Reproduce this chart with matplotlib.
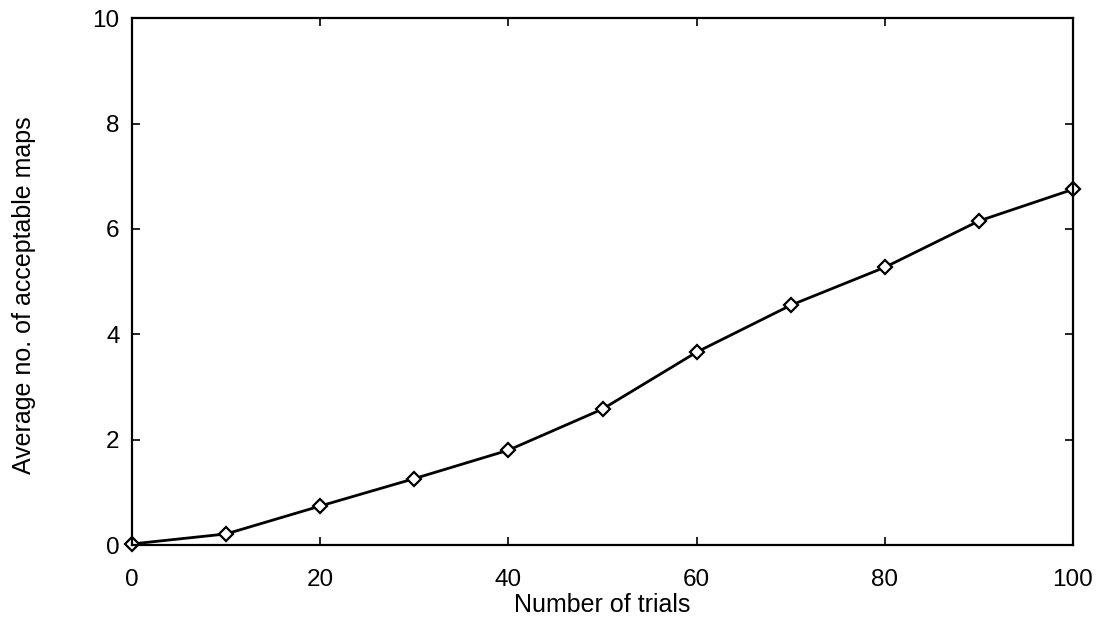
import matplotlib
matplotlib.use("Agg")
import matplotlib.pyplot as plt

# data
trials = [0, 10, 20, 30, 40, 50, 60, 70, 80, 90, 100]
avg_maps = [0.02, 0.21, 0.74, 1.26, 1.80, 2.58, 3.66, 4.55, 5.27, 6.15, 6.75]

plt.rcParams['font.family'] = ['Liberation Sans', 'DejaVu Sans']

fig = plt.figure(figsize=(11.05, 6.25), dpi=100)
ax = fig.add_axes([0.1195, 0.128, 0.8515, 0.843])

ax.plot(trials, avg_maps, color='black', linewidth=2,
        marker='D', markersize=7, markerfacecolor='white',
        markeredgecolor='black', markeredgewidth=1.6, clip_on=False)

ax.set_xlim(0, 100)
ax.set_ylim(0, 10)
ax.set_xticks(range(0, 101, 20))
ax.set_yticks(range(0, 11, 2))
ax.tick_params(direction='in', top=True, right=True, length=6,
               width=1.2, labelsize=17.5)
ax.tick_params(axis='x', pad=17)
ax.tick_params(axis='y', pad=9)
for s in ax.spines.values():
    s.set_linewidth(1.6)

ax.set_xlabel("Number of trials", fontsize=18, labelpad=2)
ax.set_ylabel("Average no. of acceptable maps", fontsize=18)
ax.yaxis.set_label_coords(-0.102, 0.475)

fig.savefig("out.png", dpi=100)
